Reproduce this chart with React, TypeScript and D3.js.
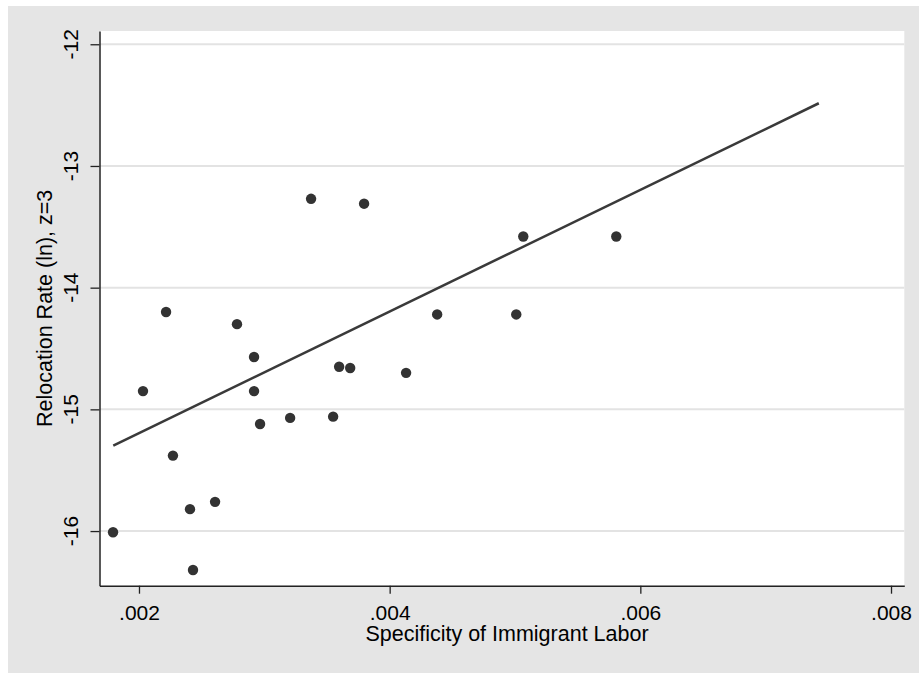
import { useRef, useEffect } from 'react'
import * as d3 from 'd3'

// specificity of immigrant labor (x) vs relocation rate ln (y)
const specificity = [
  0.001793, 0.002032, 0.002216, 0.002271, 0.002407, 0.002431, 0.002607, 0.002782,
  0.002918, 0.002918, 0.002966, 0.003206, 0.003373, 0.003549, 0.003597, 0.003685,
  0.003796, 0.004131, 0.004379, 0.005010, 0.005066, 0.005808,
]
const relocation = [
  -16.01, -14.85, -14.20, -15.38, -15.82, -16.32, -15.76, -14.30,
  -14.57, -14.85, -15.12, -15.07, -13.27, -15.06, -14.65, -14.66,
  -13.31, -14.70, -14.22, -14.22, -13.58, -13.58,
]

// fitted line endpoints
const fitX = [0.001795, 0.007424]
const fitY = [-15.298, -12.485]

const xTicks = [0.002, 0.004, 0.006, 0.008]
const yTicks = [-12, -13, -14, -15, -16]

const xTitle = 'Specificity of Immigrant Labor'
const yTitle = 'Relocation Rate (ln), z=3'

export default function App() {
  const ref = useRef<SVGSVGElement | null>(null)

  useEffect(() => {
    if (!ref.current) return
    const svg = d3.select(ref.current)
    svg.selectAll('*').remove()

    const W = 919, H = 673
    const left = 99.5, right = 904.3, top = 31, bottom = 585.7
    const font = '"Liberation Sans", Arial, sans-serif'

    svg.append('rect').attr('width', W).attr('height', H).attr('fill', '#ffffff')
    svg.append('rect').attr('x', 8).attr('y', 6).attr('width', W - 8).attr('height', H - 6).attr('fill', '#e5e5e5')
    svg.append('rect').attr('x', left).attr('y', top).attr('width', right - left).attr('height', bottom - top).attr('fill', '#ffffff')

    const x = d3.scaleLinear().domain([0.001685, 0.008106]).range([left, right])
    const y = d3.scaleLinear().domain([-16.449, -11.891]).range([bottom, top])

    // gridlines
    svg.append('g').selectAll('line').data(yTicks).enter().append('line')
      .attr('x1', left).attr('x2', right)
      .attr('y1', d => y(d)).attr('y2', d => y(d))
      .attr('stroke', '#e3e3e3').attr('stroke-width', 2)

    // y axis
    const ya = svg.append('g').attr('transform', `translate(${left},0)`)
      .call(d3.axisLeft(y).tickValues(yTicks).tickSize(9).tickSizeOuter(0).tickFormat(d => String(d)))
    ya.select('.domain').attr('stroke', '#222').attr('stroke-width', 1.5)
    ya.selectAll('.tick line').attr('stroke', '#222').attr('stroke-width', 1.3)
    ya.selectAll('.tick text').remove()
    svg.append('g').selectAll('text').data(yTicks).enter().append('text')
      .attr('transform', d => `translate(78,${y(d)}) rotate(-90)`)
      .attr('text-anchor', 'middle')
      .attr('font-family', font).attr('font-size', 21).attr('fill', '#000')
      .text(d => String(d))

    // x axis
    const xa = svg.append('g').attr('transform', `translate(0,${bottom})`)
      .call(d3.axisBottom(x).tickValues(xTicks).tickSize(8).tickSizeOuter(0).tickFormat(d => d3.format('.3f')(d as number).replace(/^0/, '')))
    xa.select('.domain').attr('stroke', '#222').attr('stroke-width', 1.5)
    xa.selectAll('.tick line').attr('stroke', '#222').attr('stroke-width', 1.3)
    xa.selectAll('.tick text').attr('font-family', font).attr('font-size', 21)
      .attr('fill', '#000').attr('dy', null).attr('y', 34)

    // fitted line
    const line = d3.line<number>().x((_, i) => x(fitX[i])).y((_, i) => y(fitY[i]))
    svg.append('path').attr('d', line(fitX))
      .attr('fill', 'none').attr('stroke', '#3a3a3a').attr('stroke-width', 2.6)

    // points
    svg.append('g').selectAll('circle').data(specificity).enter().append('circle')
      .attr('cx', d => x(d)).attr('cy', (_, i) => y(relocation[i]))
      .attr('r', 5.2).attr('fill', '#333')

    // titles
    svg.append('text').attr('x', 507).attr('y', 641)
      .attr('text-anchor', 'middle').attr('font-family', font).attr('font-size', 21.5).attr('fill', '#000')
      .text(xTitle)
    svg.append('text').attr('transform', `translate(52,${(top + bottom) / 2}) rotate(-90)`)
      .attr('text-anchor', 'middle').attr('font-family', font).attr('font-size', 21.5).attr('fill', '#000')
      .text(yTitle)
  }, [])

  return (
    <svg ref={ref} width={919} height={673}
      style={{ position: 'absolute', left: 0, top: 0, display: 'block' }} />
  )
}
